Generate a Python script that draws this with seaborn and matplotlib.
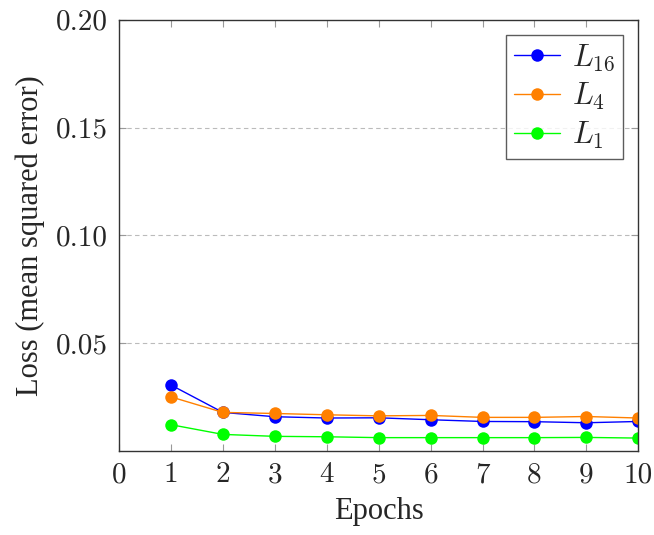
import matplotlib
matplotlib.use("Agg")
import matplotlib.pyplot as plt
import seaborn as sns
import pandas as pd

epochs = [1, 2, 3, 4, 5, 6, 7, 8, 9, 10]
loss_L16 = [0.0306, 0.0179, 0.0159, 0.0153, 0.0154, 0.0145, 0.0137, 0.0136, 0.0131, 0.0137]
loss_L4 = [0.0251, 0.0179, 0.0174, 0.0168, 0.0163, 0.0165, 0.0156, 0.0156, 0.0160, 0.0153]
loss_L1 = [0.0122, 0.0077, 0.0068, 0.0066, 0.0062, 0.0062, 0.0062, 0.0062, 0.0063, 0.0060]
series_names = [r"$L_{16}$", r"$L_4$", r"$L_1$"]
colors = ["#0000ff", "#ff8000", "#00ff00"]
x_ticks = [0, 1, 2, 3, 4, 5, 6, 7, 8, 9, 10]
y_ticks = [0.05, 0.10, 0.15, 0.20]

df = pd.DataFrame({
    "Epochs": epochs * 3,
    "Loss": loss_L16 + loss_L4 + loss_L1,
    "Series": [series_names[0]] * 10 + [series_names[1]] * 10 + [series_names[2]] * 10,
})

sns.set_theme(style="white")
plt.rcParams["font.family"] = ["Liberation Serif", "DejaVu Serif"]
plt.rcParams["mathtext.fontset"] = "cm"

fig = plt.figure(figsize=(6.54, 5.35), dpi=100)
ax = fig.add_axes([0.182, 0.157, 0.794, 0.806])

sns.lineplot(data=df, x="Epochs", y="Loss", hue="Series", hue_order=series_names,
             palette=colors, marker="o", markersize=9, markeredgewidth=0,
             linewidth=1.0, ax=ax)

ax.set_xlim(0, 10)
ax.set_ylim(0, 0.20)
ax.set_xticks(x_ticks)
ax.set_xticklabels([str(t) for t in x_ticks], fontfamily="cmr10")
ax.set_yticks(y_ticks)
ax.set_yticklabels([f"{t:.2f}" for t in y_ticks], fontfamily="cmr10")
for y in y_ticks[:-1]:
    ax.axhline(y, color="#bbbbbb", linestyle=(0, (4, 3)), linewidth=0.8, zorder=0)

ax.tick_params(axis="both", direction="in", length=5, width=0.8, color="#999999",
               labelsize=21, top=True, right=True, bottom=True, left=True, pad=8)
for s in ax.spines.values():
    s.set_color("#333333")
    s.set_linewidth(1.0)

ax.set_xlabel("Epochs", fontsize=22, labelpad=6)
ax.set_ylabel("Loss (mean squared error)", fontsize=22, labelpad=8)

leg = ax.legend(loc="upper right", fontsize=22, frameon=True, fancybox=False,
                edgecolor="#333333", handlelength=1.5, borderpad=0.25,
                labelspacing=0.25, handletextpad=0.4, borderaxespad=0.5)
leg.get_frame().set_linewidth(1.0)

fig.savefig("out.png", dpi=100)
